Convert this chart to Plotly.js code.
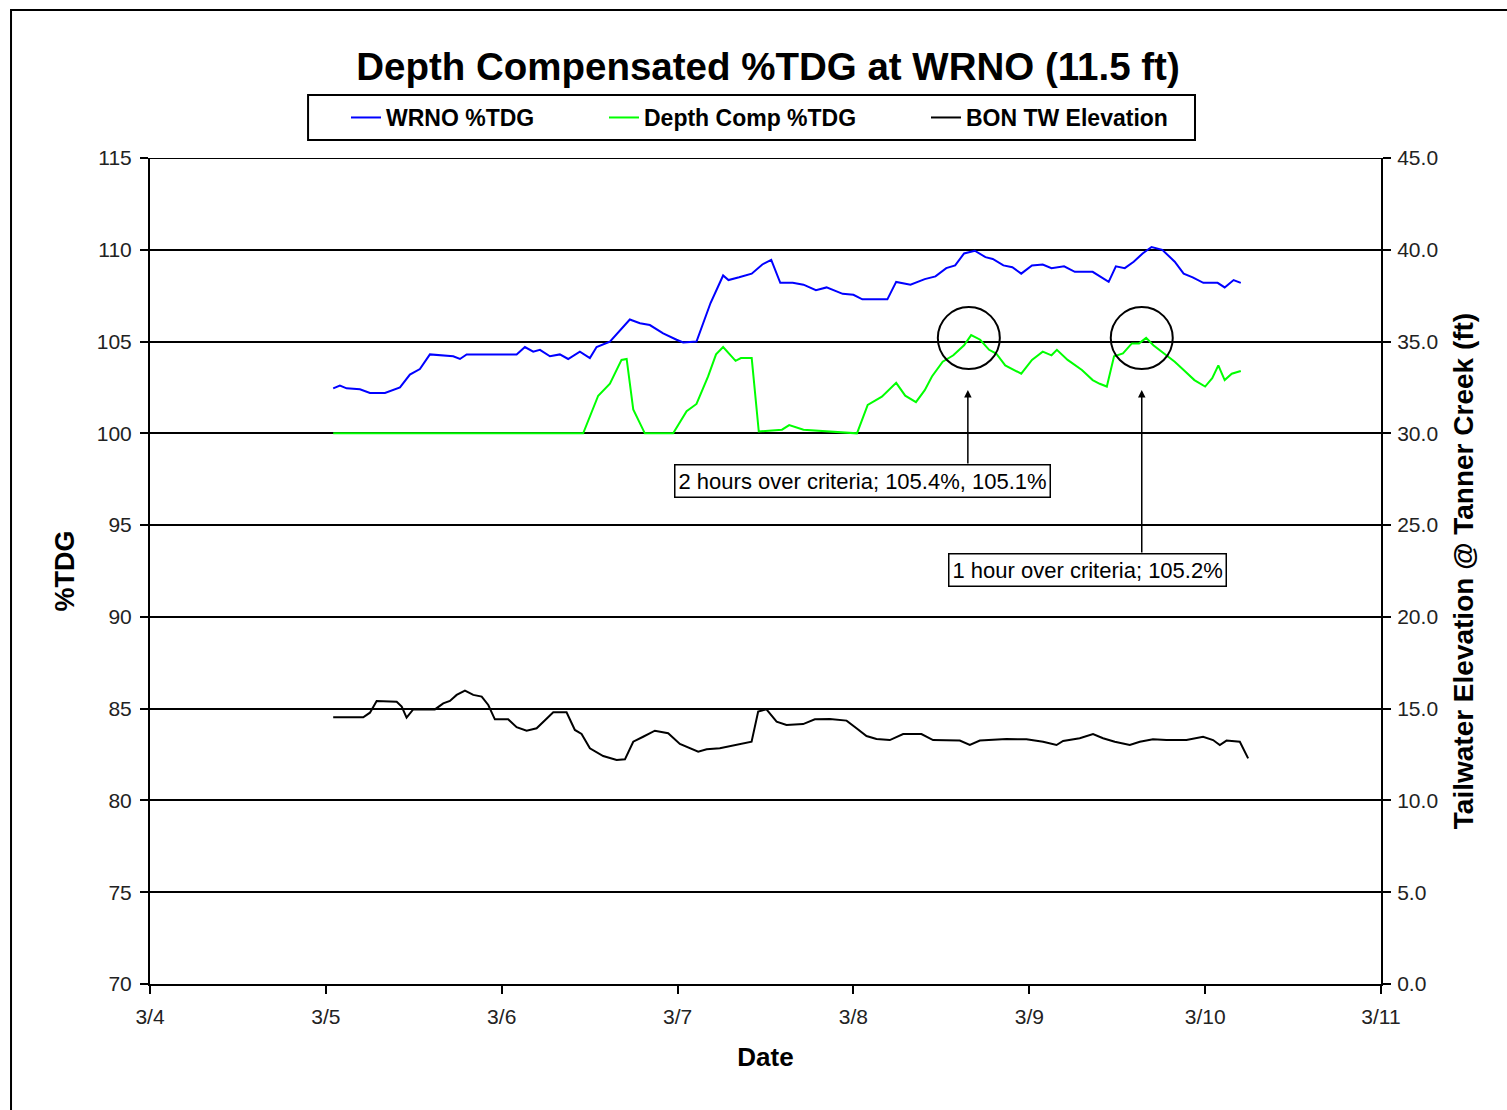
<!DOCTYPE html>
<html>
<head>
<meta charset="utf-8">
<script src="https://cdn.plot.ly/plotly-3.0.1.min.js"></script>
<style>html,body{margin:0;padding:0;background:#fff;}#chart{width:1507px;height:1110px;}</style>
</head>
<body>
<div id="chart"></div>
<script>
// ---- Data ----
const dateTickVals = ['2008-03-04','2008-03-05','2008-03-06','2008-03-07','2008-03-08','2008-03-09','2008-03-10','2008-03-11'];
const dateTickText = ['3/4','3/5','3/6','3/7','3/8','3/9','3/10','3/11'];

const wrnoTime = ['2008-03-05 01:00','2008-03-05 01:55','2008-03-05 02:50','2008-03-05 04:39','2008-03-05 06:01','2008-03-05 08:04','2008-03-05 10:07','2008-03-05 11:28','2008-03-05 12:50','2008-03-05 14:12','2008-03-05 17:23','2008-03-05 18:18','2008-03-05 19:13','2008-03-06 02:02','2008-03-06 03:10','2008-03-06 04:18','2008-03-06 05:13','2008-03-06 06:35','2008-03-06 07:56','2008-03-06 09:04','2008-03-06 10:40','2008-03-06 12:02','2008-03-06 12:57','2008-03-06 14:46','2008-03-06 17:29','2008-03-06 18:52','2008-03-06 20:13','2008-03-06 22:02','2008-03-06 23:52','2008-03-07 00:46','2008-03-07 02:35','2008-03-07 04:30','2008-03-07 06:13','2008-03-07 06:57','2008-03-07 08:24','2008-03-07 10:07','2008-03-07 11:34','2008-03-07 12:47','2008-03-07 14:01','2008-03-07 15:43','2008-03-07 17:11','2008-03-07 18:53','2008-03-07 20:20','2008-03-07 22:32','2008-03-08 00:00','2008-03-08 01:13','2008-03-08 04:38','2008-03-08 05:50','2008-03-08 07:47','2008-03-08 09:44','2008-03-08 11:12','2008-03-08 12:40','2008-03-08 13:53','2008-03-08 15:06','2008-03-08 16:34','2008-03-08 18:01','2008-03-08 19:01','2008-03-08 20:28','2008-03-08 21:41','2008-03-08 22:54','2008-03-09 00:22','2008-03-09 01:50','2008-03-09 03:02','2008-03-09 04:45','2008-03-09 06:13','2008-03-09 08:39','2008-03-09 10:50','2008-03-09 11:49','2008-03-09 13:02','2008-03-09 14:15','2008-03-09 15:28','2008-03-09 16:41','2008-03-09 18:09','2008-03-09 19:51','2008-03-09 21:04','2008-03-09 22:18','2008-03-09 23:45','2008-03-10 01:42','2008-03-10 02:40','2008-03-10 03:53','2008-03-10 04:52'];
const wrnoTdg = [102.45,102.6,102.45,102.4,102.2,102.2,102.5,103.2,103.5,104.3,104.2,104.05,104.3,104.3,104.7,104.45,104.55,104.2,104.3,104.05,104.45,104.1,104.7,105.0,106.2,106.0,105.9,105.45,105.1,104.95,105.0,107.1,108.6,108.35,108.5,108.7,109.2,109.45,108.2,108.2,108.1,107.8,107.95,107.6,107.55,107.3,107.3,108.25,108.1,108.4,108.55,109.0,109.15,109.8,109.95,109.6,109.5,109.15,109.05,108.7,109.15,109.2,109.0,109.1,108.8,108.8,108.25,109.1,109.0,109.35,109.8,110.15,110.0,109.35,108.7,108.5,108.2,108.2,107.95,108.35,108.2];

const compTime = ['2008-03-05 01:00','2008-03-06 11:07','2008-03-06 13:10','2008-03-06 14:46','2008-03-06 16:21','2008-03-06 17:03','2008-03-06 17:57','2008-03-06 19:32','2008-03-06 23:24','2008-03-07 01:14','2008-03-07 02:35','2008-03-07 04:10','2008-03-07 05:15','2008-03-07 06:13','2008-03-07 07:55','2008-03-07 08:39','2008-03-07 10:07','2008-03-07 11:05','2008-03-07 14:15','2008-03-07 15:14','2008-03-07 17:11','2008-03-08 00:29','2008-03-08 01:57','2008-03-08 03:53','2008-03-08 05:50','2008-03-08 07:04','2008-03-08 08:32','2008-03-08 09:44','2008-03-08 10:43','2008-03-08 12:11','2008-03-08 13:38','2008-03-08 15:06','2008-03-08 16:04','2008-03-08 17:18','2008-03-08 18:31','2008-03-08 19:29','2008-03-08 20:43','2008-03-08 22:54','2008-03-09 00:22','2008-03-09 01:50','2008-03-09 03:02','2008-03-09 03:46','2008-03-09 05:14','2008-03-09 07:11','2008-03-09 08:39','2008-03-09 09:37','2008-03-09 10:35','2008-03-09 11:34','2008-03-09 12:47','2008-03-09 14:00','2008-03-09 14:59','2008-03-09 15:57','2008-03-09 16:56','2008-03-09 18:23','2008-03-09 19:51','2008-03-09 21:04','2008-03-09 22:32','2008-03-10 00:00','2008-03-10 00:58','2008-03-10 01:48','2008-03-10 02:40','2008-03-10 03:38','2008-03-10 04:52'];
const compTdg = [100,100,102.05,102.7,104.0,104.05,101.3,100,100,101.2,101.6,103.1,104.3,104.7,103.95,104.1,104.1,100.1,100.2,100.45,100.2,100,101.55,102.0,102.75,102.05,101.7,102.35,103.1,103.9,104.25,104.8,105.35,105.1,104.55,104.35,103.7,103.25,104.0,104.45,104.25,104.55,104.0,103.45,102.9,102.7,102.55,104.2,104.35,104.9,104.9,105.2,104.8,104.35,103.9,103.45,102.9,102.55,103.0,103.7,102.9,103.25,103.4];

const twTime = ['2008-03-05 01:00','2008-03-05 05:06','2008-03-05 06:01','2008-03-05 06:56','2008-03-05 09:40','2008-03-05 10:21','2008-03-05 11:01','2008-03-05 11:55','2008-03-05 14:53','2008-03-05 16:01','2008-03-05 16:56','2008-03-05 17:51','2008-03-05 18:59','2008-03-05 20:07','2008-03-05 21:16','2008-03-05 22:10','2008-03-05 23:04','2008-03-06 00:53','2008-03-06 02:02','2008-03-06 03:24','2008-03-06 04:46','2008-03-06 07:02','2008-03-06 08:51','2008-03-06 09:59','2008-03-06 10:54','2008-03-06 12:02','2008-03-06 13:51','2008-03-06 15:41','2008-03-06 16:49','2008-03-06 17:57','2008-03-06 19:18','2008-03-06 20:54','2008-03-06 22:43','2008-03-07 00:19','2008-03-07 02:49','2008-03-07 03:58','2008-03-07 05:46','2008-03-07 08:03','2008-03-07 10:06','2008-03-07 11:00','2008-03-07 12:08','2008-03-07 13:31','2008-03-07 14:52','2008-03-07 17:08','2008-03-07 18:44','2008-03-07 20:47','2008-03-07 23:04','2008-03-08 00:25','2008-03-08 01:47','2008-03-08 03:09','2008-03-08 04:58','2008-03-08 06:47','2008-03-08 09:17','2008-03-08 10:52','2008-03-08 12:42','2008-03-08 14:31','2008-03-08 15:53','2008-03-08 17:15','2008-03-08 20:53','2008-03-08 23:37','2008-03-09 01:53','2008-03-09 03:43','2008-03-09 04:37','2008-03-09 06:53','2008-03-09 08:42','2008-03-09 10:04','2008-03-09 11:40','2008-03-09 13:43','2008-03-09 15:05','2008-03-09 16:53','2008-03-09 18:43','2008-03-09 21:27','2008-03-09 23:43','2008-03-10 01:05','2008-03-10 02:00','2008-03-10 02:55','2008-03-10 04:44','2008-03-10 05:52'];
const twElev = [14.53,14.53,14.78,15.42,15.38,15.11,14.51,14.96,14.96,15.29,15.42,15.75,15.98,15.75,15.66,15.2,14.42,14.42,13.99,13.8,13.93,14.8,14.8,13.84,13.62,12.84,12.42,12.2,12.24,13.2,13.47,13.8,13.66,13.08,12.66,12.79,12.84,13.02,13.2,14.84,14.96,14.29,14.11,14.16,14.42,14.44,14.35,13.93,13.51,13.35,13.29,13.62,13.62,13.29,13.26,13.26,13.02,13.26,13.35,13.33,13.2,13.02,13.24,13.39,13.62,13.39,13.2,13.02,13.2,13.33,13.29,13.29,13.47,13.29,13.02,13.26,13.2,12.29];

const noteText1 = '2 hours over criteria; 105.4%, 105.1%';
const noteText2 = '1 hour over criteria; 105.2%';

// ---- Chart ----
const FONT = 'Liberation Sans, Arial, sans-serif';
const traces = [
  {x: wrnoTime, y: wrnoTdg, name: 'WRNO %TDG', type: 'scatter', mode: 'lines',
   line: {color: '#0000FF', width: 2}, legendwidth: 213},
  {x: compTime, y: compTdg, name: 'Depth Comp %TDG', type: 'scatter', mode: 'lines',
   line: {color: '#00FF00', width: 2}, legendwidth: 277},
  {x: twTime, y: twElev, name: 'BON TW Elevation', type: 'scatter', mode: 'lines', yaxis: 'y2',
   line: {color: '#000000', width: 2}}
];

const layout = {
  width: 1507, height: 1110,
  margin: {l: 150, r: 126, t: 158, b: 126},
  paper_bgcolor: '#fff', plot_bgcolor: '#fff',
  font: {family: FONT, color: '#000', size: 21},
  title: {text: '<b>Depth Compensated %TDG at WRNO (11.5 ft)</b>', font: {family: FONT, size: 38.5, color: '#000'},
          x: 0.5096, xanchor: 'center', y: 0.94, yanchor: 'middle'},
  showlegend: true,
  legend: {orientation: 'h', x: 0.1592, xanchor: 'left', y: 1.049, yanchor: 'middle',
           font: {family: FONT, size: 23, color: '#000', weight: 'bold'},
           bgcolor: 'rgba(0,0,0,0)', borderwidth: 0},
  xaxis: {type: 'date', range: ['2008-03-04', '2008-03-11'], tickvals: dateTickVals, ticktext: dateTickText,
          showgrid: false, zeroline: false, showline: true, linecolor: '#000', linewidth: 2,
          ticks: 'outside', ticklen: 8, tickwidth: 2, tickcolor: '#000',
          tickfont: {family: FONT, size: 21, color: '#222'}, ticklabelstandoff: 5,
          title: {text: '<b>Date</b>', font: {family: FONT, size: 26, color: '#000'}, standoff: 21}},
  yaxis: {range: [70, 115], dtick: 5, tick0: 70, showgrid: true, gridcolor: '#000', gridwidth: 2,
          zeroline: false, showline: true, linecolor: '#000', linewidth: 2,
          ticks: 'outside', ticklen: 8, tickwidth: 2, tickcolor: '#000',
          tickfont: {family: FONT, size: 21, color: '#222'}, ticklabelstandoff: 4,
          title: {text: '<b>%TDG</b>', font: {family: FONT, size: 27, color: '#000'}, standoff: 14}},
  yaxis2: {range: [0, 45], dtick: 5, tick0: 0, tickformat: '.1f', overlaying: 'y', side: 'right',
           showgrid: false, zeroline: false, showline: true, linecolor: '#000', linewidth: 2,
           ticks: 'outside', ticklen: 8, tickwidth: 2, tickcolor: '#000',
           tickfont: {family: FONT, size: 21, color: '#222'}, ticklabelstandoff: 2,
           title: {text: '<b>Tailwater Elevation @ Tanner Creek (ft)</b>', font: {family: FONT, size: 28, color: '#000'}, standoff: 16}},
  shapes: [
    // outer chart border
    {type: 'rect', xref: 'paper', yref: 'paper', x0: -0.1129, x1: 1.11, y0: -0.17, y1: 1.1792,
     line: {color: '#000', width: 2}, fillcolor: 'rgba(0,0,0,0)'},
    // legend box
    {type: 'rect', xref: 'paper', yref: 'paper', x0: 0.1284, x1: 0.8489, y0: 1.0218, y1: 1.0763,
     line: {color: '#000', width: 2}, fillcolor: 'rgba(0,0,0,0)'},
    // top gridline at 115
    {type: 'line', xref: 'paper', yref: 'y', x0: 0, x1: 1, y0: 115, y1: 115,
     line: {color: '#000', width: 2}},
    // circles around exceedances
    {type: 'circle', xref: 'x', yref: 'y', xsizemode: 'pixel', ysizemode: 'pixel',
     xanchor: '2008-03-08 15:45', yanchor: 105.19, x0: -31, x1: 31, y0: -31, y1: 31,
     line: {color: '#000', width: 2}},
    {type: 'circle', xref: 'x', yref: 'y', xsizemode: 'pixel', ysizemode: 'pixel',
     xanchor: '2008-03-09 15:21', yanchor: 105.19, x0: -31, x1: 31, y0: -31, y1: 31,
     line: {color: '#000', width: 2}}
  ],
  annotations: [
    {x: '2008-03-08 15:37', y: 102.36, ax: '2008-03-08 15:37', ay: 98.27, axref: 'x', ayref: 'y',
     xref: 'x', yref: 'y', text: '', showarrow: true, arrowhead: 2, arrowsize: 1, arrowwidth: 1.5, arrowcolor: '#000'},
    {x: '2008-03-09 15:21', y: 102.36, ax: '2008-03-09 15:21', ay: 93.43, axref: 'x', ayref: 'y',
     xref: 'x', yref: 'y', text: '', showarrow: true, arrowhead: 2, arrowsize: 1, arrowwidth: 1.5, arrowcolor: '#000'},
    {x: '2008-03-08 01:13', y: 97.40, xref: 'x', yref: 'y', text: noteText1, showarrow: false,
     font: {family: FONT, size: 22, color: '#000'}, bgcolor: '#fff', bordercolor: '#000', borderwidth: 1.5, borderpad: 3},
    {x: '2008-03-09 07:55', y: 92.53, xref: 'x', yref: 'y', text: noteText2, showarrow: false,
     font: {family: FONT, size: 22, color: '#000'}, bgcolor: '#fff', bordercolor: '#000', borderwidth: 1.5, borderpad: 3}
  ]
};

Plotly.newPlot('chart', traces, layout, {displayModeBar: false, staticPlot: true});
</script>
</body>
</html>
